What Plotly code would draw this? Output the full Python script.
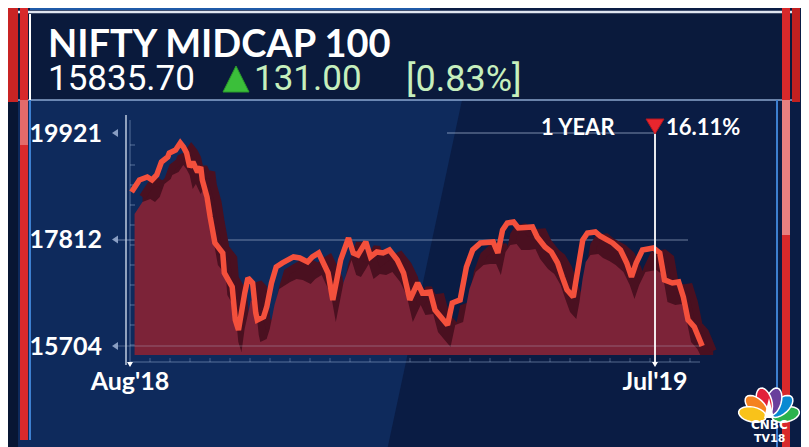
import math

import pandas as pd
import plotly.graph_objects as go

W, H = 809, 447
PAGE_OFFSET = 8  # the html page draws the figure 8px in from the top-left corner

# one year of NIFTY MIDCAP 100 closes
dates = [
    "2018-08-02", "2018-08-05", "2018-08-07", "2018-08-12", "2018-08-15", "2018-08-18",
    "2018-08-21", "2018-08-25", "2018-08-26", "2018-08-30", "2018-09-02", "2018-09-04",
    "2018-09-06", "2018-09-08", "2018-09-10", "2018-09-13", "2018-09-15", "2018-09-16",
    "2018-09-19", "2018-09-21", "2018-09-24", "2018-09-29", "2018-09-30", "2018-10-05",
    "2018-10-07", "2018-10-09", "2018-10-11", "2018-10-13", "2018-10-15", "2018-10-18",
    "2018-10-20", "2018-10-21", "2018-10-25", "2018-10-27", "2018-10-30", "2018-11-02",
    "2018-11-06", "2018-11-09", "2018-11-13", "2018-11-17", "2018-11-22", "2018-11-25",
    "2018-11-29", "2018-12-02", "2018-12-05", "2018-12-08", "2018-12-13", "2018-12-18",
    "2018-12-21", "2018-12-24", "2018-12-29", "2019-01-01", "2019-01-05", "2019-01-09",
    "2019-01-13", "2019-01-18", "2019-01-22", "2019-01-26", "2019-01-31", "2019-02-03",
    "2019-02-08", "2019-02-11", "2019-02-15", "2019-02-19", "2019-02-22", "2019-02-27",
    "2019-03-03", "2019-03-07", "2019-03-12", "2019-03-16", "2019-03-20", "2019-03-23",
    "2019-03-26", "2019-03-29", "2019-04-02", "2019-04-05", "2019-04-10", "2019-04-14",
    "2019-04-17", "2019-04-22", "2019-04-26", "2019-04-30", "2019-05-03", "2019-05-06",
    "2019-05-10", "2019-05-12", "2019-05-14", "2019-05-16", "2019-05-19", "2019-05-24",
    "2019-05-27", "2019-05-31", "2019-06-04", "2019-06-09", "2019-06-13", "2019-06-16",
    "2019-06-19", "2019-06-23", "2019-06-30", "2019-07-04", "2019-07-07", "2019-07-12",
    "2019-07-16", "2019-07-19", "2019-07-22", "2019-07-26", "2019-07-30", "2019-07-31",
]
closes = [
    18753, 18892, 18991, 19050, 18991, 19090, 19347, 19446, 19525, 19585, 19723, 19644,
    19525, 19248, 19347, 19149, 19248, 18991, 18654, 18259, 17744, 17546, 17150, 16873,
    16220, 16022, 16478, 16755, 17051, 16952, 16359, 16220, 16280, 16478, 16952, 17269,
    17348, 17408, 17467, 17447, 17368, 17467, 17546, 17348, 17150, 16616, 17408, 17843,
    17546, 17507, 17764, 17467, 17566, 17546, 17606, 17408, 17150, 16616, 16952, 16755,
    16774, 16418, 16280, 16121, 16557, 16616, 17269, 17606, 17744, 17764, 17764, 17546,
    18001, 18140, 18160, 18041, 18041, 18061, 17863, 17665, 17566, 17348, 17071, 16814,
    16675, 17012, 17467, 17803, 17942, 17962, 17883, 17823, 17744, 17606, 17348, 17071,
    17348, 17606, 17645, 17546, 17012, 16952, 16972, 16675, 16220, 16082, 15824, 15705,
]

y_tickvals = [15704, 17812, 19921]
y_ticktext = ["15704", "17812", "19921"]
x_tickvals = ["2018-08-01", "2019-07-01"]
x_ticktext = ["Aug'18", "Jul'19"]

index_name = "NIFTY MIDCAP 100"
last_value = "15835.70"
change = "131.00"
change_pct = "[0.83%]"
year_label = "1 YEAR"
year_change = "16.11%"

RED_LINE = "#f4503c"
DARK_FACE = "#4a1020"
FILL = "#7c2338"
GREEN_TXT = "#c6efbd"


def px(x):
    return (x - PAGE_OFFSET) / W


def py(y):
    return 1 - (y - PAGE_OFFSET) / H


# pixel <-> data calibration of the plot area
X0_PX, X1_PX = 128, 722
Y_TOP_PX, Y_BOT_PX = 110, 355
start = pd.Timestamp("2018-08-01")
PX_PER_DAY = 1.572
VAL_PER_PX = (19921 - 15704) / (346 - 133)


def x_range(shift_px=0):
    lo = start + pd.Timedelta(days=(X0_PX - 130 - shift_px) / PX_PER_DAY)
    hi = start + pd.Timedelta(days=(X1_PX - 130 - shift_px) / PX_PER_DAY)
    return [lo, hi]


def y_range(shift_px=0):
    lo = 15704 - (Y_BOT_PX - 346 - shift_px) * VAL_PER_PX
    hi = 19921 + (133 - Y_TOP_PX + shift_px) * VAL_PER_PX
    return [lo, hi]


fig = go.Figure()

# base subplot carries the ticks; the ribbon layers sit on overlaid axes
fig.add_scatter(x=dates, y=closes, mode="lines", line={"width": 0}, opacity=0,
                hoverinfo="skip")
# 3d ribbon: dark side face, lighter front fill, bright top edge
fig.add_scatter(x=dates, y=closes, xaxis="x2", yaxis="y2", mode="lines",
                line={"color": DARK_FACE, "width": 7}, fill="tozeroy",
                fillcolor=DARK_FACE, hoverinfo="skip")
fig.add_scatter(x=dates, y=closes, xaxis="x3", yaxis="y3", mode="lines",
                line={"color": FILL, "width": 0}, fill="tozeroy",
                fillcolor=FILL, hoverinfo="skip")
fig.add_scatter(x=dates, y=closes, xaxis="x4", yaxis="y4", mode="lines",
                line={"color": RED_LINE, "width": 5.5}, name=index_name)

xdom = [px(X0_PX), px(X1_PX)]
ydom = [py(Y_BOT_PX), py(Y_TOP_PX)]
hidden = {"visible": False, "showgrid": False, "zeroline": False, "automargin": False}

fig.update_layout(
    width=W, height=H,
    margin={"l": 0, "r": 0, "t": 0, "b": 0, "autoexpand": False},
    paper_bgcolor="#0a1c44",
    plot_bgcolor="rgba(0,0,0,0)",
    showlegend=False,
    xaxis={"domain": xdom, "type": "date", "range": x_range(), "showgrid": False,
           "zeroline": False, "showline": False, "ticks": "", "automargin": False,
           "tickvals": x_tickvals, "ticktext": x_ticktext, "ticklabelstandoff": 9,
           "tickfont": {"family": "Lato", "size": 25, "color": "white", "weight": "bold"}},
    yaxis={"domain": ydom, "range": y_range(), "showgrid": False, "zeroline": False,
           "showline": False, "ticks": "", "tickvals": y_tickvals, "ticktext": y_ticktext,
           "ticklabelstandoff": 25, "automargin": False,
           "tickfont": {"family": "Lato", "size": 25, "color": "white", "weight": "bold"}},
    xaxis2={**hidden, "domain": xdom, "type": "date", "overlaying": "x", "range": x_range(11)},
    yaxis2={**hidden, "domain": ydom, "overlaying": "y", "range": y_range(5)},
    xaxis3={**hidden, "domain": xdom, "type": "date", "overlaying": "x", "range": x_range(3)},
    yaxis3={**hidden, "domain": ydom, "overlaying": "y", "range": y_range(22)},
    xaxis4={**hidden, "domain": xdom, "type": "date", "overlaying": "x", "range": x_range()},
    yaxis4={**hidden, "domain": ydom, "overlaying": "y", "range": y_range()},
)

shapes = []


def rect(x0, y0, x1, y1, color, layer="below"):
    shapes.append(dict(type="rect", xref="paper", yref="paper", x0=px(x0), x1=px(x1),
                       y0=py(y1), y1=py(y0), fillcolor=color, line={"width": 0}, layer=layer))


def seg(x0, y0, x1, y1, color, width, layer="below"):
    shapes.append(dict(type="line", xref="paper", yref="paper", x0=px(x0), x1=px(x1),
                       y0=py(y0), y1=py(y1), line={"color": color, "width": width}, layer=layer))


def poly(points, color, line_color=None, line_width=0, layer="above"):
    path = "M " + " L ".join(f"{px(a):.5f},{py(b):.5f}" for a, b in points) + " Z"
    shapes.append(dict(type="path", xref="paper", yref="paper", path=path, fillcolor=color,
                       line={"color": line_color or color, "width": line_width}, layer=layer))


# background: lighter diagonal panel on the left of the chart
poly([(0, 100), (462, 100), (385, 460), (0, 460)], "#0e2a5c", layer="below")
rect(0, 100, 18, 460, "#081634")
rect(30, 8, 430, 10, "#1f5aa8")

# header band
rect(0, 12, 792, 100, "#0a1a3c")
seg(8, 12, 792, 12, "rgba(235,240,250,0.95)", 2.5)
seg(8, 100, 792, 100, "rgba(170,200,240,0.8)", 1.5)
seg(30, 14, 30, 100, "white", 2)

# side bars
rect(8, 8, 18, 102, "#c92424", layer="above")
rect(20, 8, 28, 440, "#d8292b", layer="above")
rect(20, 100, 28, 145, "#e46a6a", layer="above")
rect(29, 100, 31, 440, "#3d7fd0", layer="above")
rect(776, 100, 778, 460, "#3d7fd0", layer="above")
rect(782, 8, 790, 460, "#d8292b", layer="above")
rect(782, 100, 790, 235, "#e88080", layer="above")
rect(792, 8, 800, 102, "#c22020", layer="above")

# chart furniture
seg(126, 115, 126, 365, "rgba(220,230,245,0.85)", 1.5)
seg(130, 120, 130, 362, "rgba(180,200,230,0.45)", 1)
for ty in range(145, 360, 20):
    seg(130, ty, 135, ty, "rgba(180,200,230,0.45)", 1)
seg(115, 240, 688, 240, "rgba(190,205,230,0.55)", 1)
seg(115, 346, 700, 346, "rgba(190,205,230,0.35)", 1, layer="above")
seg(130, 362, 700, 362, "rgba(180,200,230,0.45)", 1)
for tx in range(150, 700, 20):
    seg(tx, 358, tx, 362, "rgba(180,200,230,0.35)", 1)
seg(447, 133, 655, 133, "rgba(200,215,240,0.6)", 1)
seg(655, 128, 655, 362, "rgba(255,255,255,0.9)", 2, layer="above")
for cx in (130, 655):
    poly([(cx - 3, 362), (cx + 3, 362), (cx, 367)], "white")
for ty in y_tickvals:
    yy = 133 + (19921 - ty) / VAL_PER_PX
    poly([(112, yy), (118, yy - 4), (118, yy + 4)], "rgba(150,170,205,0.9)")

# green up triangle and red down triangle
poly([(236, 66), (249, 92), (223, 92)], "#3bbf3a", "#2a9a2a", 1)
poly([(646, 119), (664, 119), (655, 134)], "#e8262e", "#b01820", 1)

# CNBC peacock
PCX, PCY = 769, 418
feathers = [(12, "#2bb24c"), (43, "#0a8ad2"), (74, "#6a3f9c"),
            (106, "#e2203a"), (137, "#f5821f"), (168, "#f9c21a")]
for ang, col in feathers:
    t = math.radians(ang)
    ux, uy = math.cos(t), -math.sin(t)
    vx, vy = -uy, ux
    cxf, cyf = PCX + 17 * ux, PCY + 17 * uy
    pts = []
    for k in range(24):
        s = 2 * math.pi * k / 24
        a, b = 14 * math.cos(s), 7.5 * math.sin(s)
        pts.append((cxf + a * ux + b * vx, cyf + a * uy + b * vy))
    poly(pts, col, "white", 1.5)
poly([(764, 418), (774, 418), (769, 398)], "white")

fig.update_layout(shapes=shapes)

ann = []


def text(x, y, s, size, color="white", weight="normal", family="Lato", anchor="left"):
    ann.append(dict(x=px(x), y=py(y), xref="paper", yref="paper", text=s, showarrow=False,
                    xanchor=anchor, yanchor="middle",
                    font={"family": family, "size": size, "color": color, "weight": weight}))


text(46, 42, index_name, 38, weight="bold")
text(46, 79, last_value, 35, family="Roboto")
text(252, 79, change, 35, color=GREEN_TXT, family="Roboto")
text(404, 79, change_pct, 36, color=GREEN_TXT, family="Roboto")
text(539, 126, year_label, 22, weight="bold")
text(664, 126, year_change, 22, weight="bold")
text(769, 425, "CNBC", 12, weight=900, family="DejaVu Sans", anchor="center")
text(769, 438, "TV18", 11, weight=900, family="DejaVu Sans", anchor="center")

fig.update_layout(annotations=ann)

fig.write_html("out.html")
